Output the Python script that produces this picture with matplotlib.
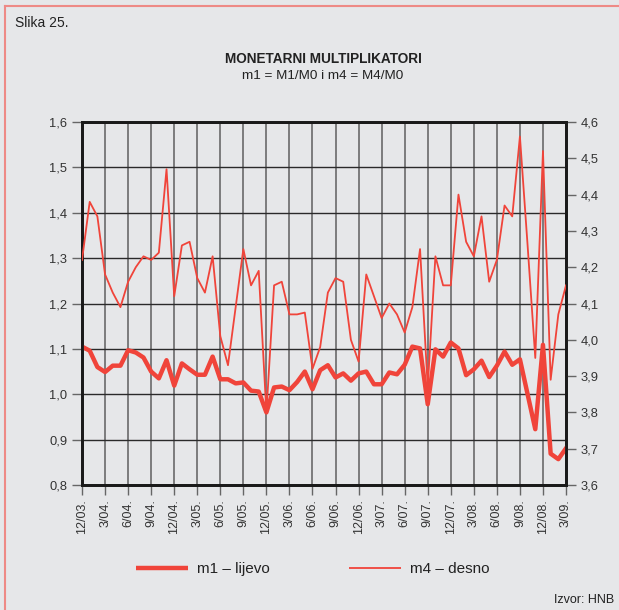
import matplotlib
matplotlib.use("Agg")
import matplotlib.pyplot as plt
from matplotlib.lines import Line2D

plt.rcParams['font.family'] = ['Liberation Sans', 'DejaVu Sans']

# monthly data, 12/2003 - 3/2009
months = list(range(64))
m1 = [1.105, 1.096, 1.060, 1.049, 1.063, 1.063, 1.097, 1.092, 1.081, 1.050,
      1.035, 1.075, 1.019, 1.068, 1.055, 1.043, 1.043, 1.083, 1.033, 1.033,
      1.024, 1.026, 1.008, 1.006, 0.960, 1.015, 1.017, 1.009, 1.027, 1.050,
      1.011, 1.053, 1.064, 1.037, 1.046, 1.030, 1.046, 1.050, 1.022, 1.022,
      1.048, 1.044, 1.065, 1.105, 1.101, 0.978, 1.099, 1.083, 1.114, 1.101,
      1.042, 1.055, 1.074, 1.038, 1.063, 1.094, 1.065, 1.077, 1.000, 0.923,
      1.109, 0.869, 0.857, 0.881]
m4 = [4.22, 4.38, 4.34, 4.18, 4.13, 4.09, 4.16, 4.20, 4.23, 4.22,
      4.24, 4.47, 4.12, 4.26, 4.27, 4.17, 4.13, 4.23, 4.01, 3.93,
      4.09, 4.25, 4.15, 4.19, 3.80, 4.15, 4.16, 4.07, 4.07, 4.075,
      3.92, 3.98, 4.13, 4.17, 4.16, 4.00, 3.94, 4.18, 4.12, 4.06,
      4.10, 4.07, 4.02, 4.09, 4.25, 3.87, 4.23, 4.15, 4.15, 4.40,
      4.27, 4.23, 4.34, 4.16, 4.22, 4.37, 4.34, 4.56, 4.26, 3.95,
      4.52, 3.89, 4.07, 4.15]
tick_labels = ['12/03.', '3/04.', '6/04.', '9/04.', '12/04.', '3/05.', '6/05.',
               '9/05.', '12/05.', '3/06.', '6/06.', '9/06.', '12/06.', '3/07.',
               '6/07.', '9/07.', '12/07.', '3/08.', '6/08.', '9/08.', '12/08.',
               '3/09.']
left_ticks = [0.8, 0.9, 1.0, 1.1, 1.2, 1.3, 1.4, 1.5, 1.6]
right_ticks = [3.6, 3.7, 3.8, 3.9, 4.0, 4.1, 4.2, 4.3, 4.4, 4.5, 4.6]

bg = '#e6e7e9'
red = '#f0443a'

fig = plt.figure(figsize=(6.19, 6.10), dpi=100, facecolor=bg)
ax = fig.add_axes([0.1325, 0.2049, 0.7819, 0.5951])
ax.set_facecolor(bg)
ax2 = ax.twinx()

ax.set_xlim(0, 63)
ax.set_ylim(0.8, 1.6)
ax2.set_ylim(3.6, 4.6)

ax.set_xticks(months[::3])
ax.set_xticklabels(tick_labels, rotation=90, fontsize=9, color='#333333')
ax.set_yticks(left_ticks)
ax.set_yticklabels([f'{v:.1f}'.replace('.', ',') for v in left_ticks],
                   fontsize=9.3, color='#333333')
ax2.set_yticks(right_ticks)
ax2.set_yticklabels([f'{v:.1f}'.replace('.', ',') for v in right_ticks],
                    fontsize=9.3, color='#333333')

ax.tick_params(axis='both', direction='out', length=7, width=1, color='#666666')
ax2.tick_params(axis='y', direction='out', length=7, width=1, color='#666666')

ax.grid(axis='x', color='#6a6a6a', lw=1.2)
ax.grid(axis='y', color='#2a2a2a', lw=1.0)
ax.set_axisbelow(True)

for a in (ax, ax2):
    for s in ['top', 'bottom', 'left', 'right']:
        a.spines[s].set_linewidth(2)
        a.spines[s].set_color('#1a1a1a')

ax.plot(months, m1, color=red, lw=3.2, zorder=3)
ax2.plot(months, m4, color=red, lw=1.3, zorder=3)

fig.text(0.024, 0.962, 'Slika 25.', fontsize=10, color='#222222', va='center')
fig.text(0.522, 0.904, 'MONETARNI MULTIPLIKATORI', fontsize=9.8, fontweight='bold',
         ha='center', va='center', color='#222222')
fig.text(0.522, 0.876, 'm1 = M1/M0 i m4 = M4/M0', fontsize=9.7,
         ha='center', va='center', color='#222222')
fig.text(0.993, 0.016, 'Izvor: HNB', fontsize=9, ha='right', va='center',
         color='#222222')

handles = [Line2D([], [], color=red, lw=3.2, solid_capstyle='butt'),
           Line2D([], [], color=red, lw=1.3, solid_capstyle='butt')]
fig.legend(handles, ['m1 – lijevo', 'm4 – desno'], loc='center',
           bbox_to_anchor=(0.505, 0.067), ncol=2, frameon=False, fontsize=11,
           handlelength=3.4, columnspacing=5.2, handletextpad=0.6,
           labelcolor='#222222')

# red frame on top and left edge
fig.add_artist(Line2D([0.008, 0.008], [0, 0.99], transform=fig.transFigure,
                      color='#ee8a86', lw=1.5))
fig.add_artist(Line2D([0.008, 1], [0.99, 0.99], transform=fig.transFigure,
                      color='#ee8a86', lw=1.5))

fig.savefig('out.png', dpi=100, facecolor=bg)
